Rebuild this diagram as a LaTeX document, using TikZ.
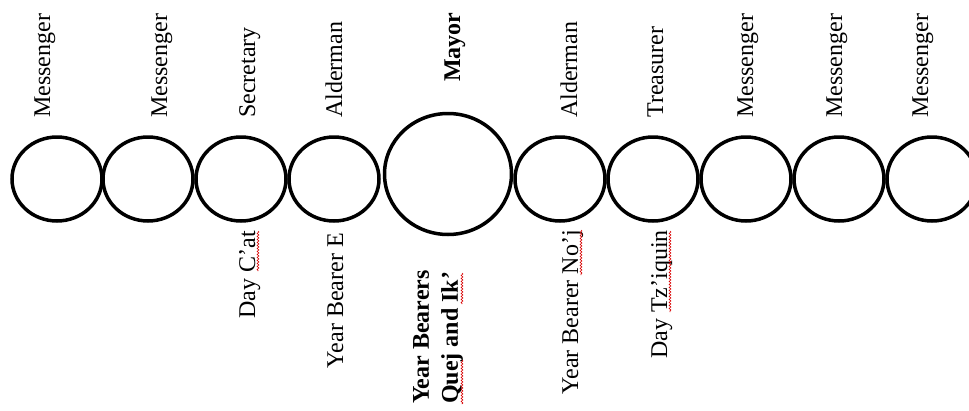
\documentclass[tikz,border=0pt]{standalone}
\usepackage{fontspec}
\setmainfont{Liberation Serif}
\usetikzlibrary{shapes.geometric,decorations.pathmorphing}
\begin{document}
\begin{tikzpicture}[x=1pt,y=-1pt,
  ring/.style={draw, ellipse, line width=3.5pt, inner sep=0pt, minimum width=90pt, minimum height=84pt},
  bigring/.style={ring, minimum width=127pt, minimum height=121pt},
  lbl/.style={rotate=90, inner sep=0pt, font=\fontsize{24}{29}\selectfont},
  lblb/.style={rotate=90, inner sep=0pt, font=\fontsize{24}{29}\selectfont\bfseries},
  squig/.style={draw=red!85!black, line width=0.6pt, decorate, decoration={snake, amplitude=0.9pt, segment length=3pt}}]
\clip (0,0) rectangle (969,410);
\fill[white] (0,0) rectangle (969,410);
% rings
\node[ring] (c1) at (57,179) {};
\node[ring] (c2) at (148,179) {};
\node[ring] (c3) at (241,179) {};
\node[ring] (c4) at (334,179) {};
\node[bigring] (c5) at (448,174) {};
\node[ring] (c6) at (560,179) {};
\node[ring] (c7) at (653,179) {};
\node[ring] (c8) at (746,179) {};
\node[ring] (c9) at (839,179) {};
\node[ring] (c10) at (932,179) {};
% top labels
\node[lbl, anchor=base west] (t1) at (50,118) {Messenger};
\node[lbl, anchor=base west] (t2) at (167,118) {Messenger};
\node[lbl, anchor=base west] (t3) at (255,118) {Secretary};
\node[lbl, anchor=base west] (t4) at (342,118) {Alderman};
\node[lblb, anchor=base west] (t5) at (460,82) {Mayor};
\node[lbl, anchor=base west] (t6) at (577,118) {Alderman};
\node[lbl, anchor=base west] (t7) at (663,118) {Treasurer};
\node[lbl, anchor=base west] (t8) at (753,118) {Messenger};
\node[lbl, anchor=base west] (t9) at (842,118) {Messenger};
\node[lbl, anchor=base west] (t10) at (928,118) {Messenger};
% bottom labels
\node[lbl, anchor=base east] (b3) at (255,231) {Day C’at};
\node[lbl, anchor=base east] (b4) at (343,233) {Year Bearer E};
\node[lblb, anchor=north west, align=left] (b5) at (413,404) {Year Bearers\\Quej and Ik’};
\node[lbl, anchor=base east] (b6) at (578,230) {Year Bearer No’j};
\node[lbl, anchor=base east] (b7) at (667,230) {Day Tz’iquin};
% spell-check squiggles
\draw[squig] (258,231) -- (258,271);
\draw[squig] (462,360) -- (462,404);
\draw[squig] (462,273) -- (462,304);
\draw[squig] (581,230) -- (581,275);
\draw[squig] (670,231) -- (670,312);
\end{tikzpicture}
\end{document}
